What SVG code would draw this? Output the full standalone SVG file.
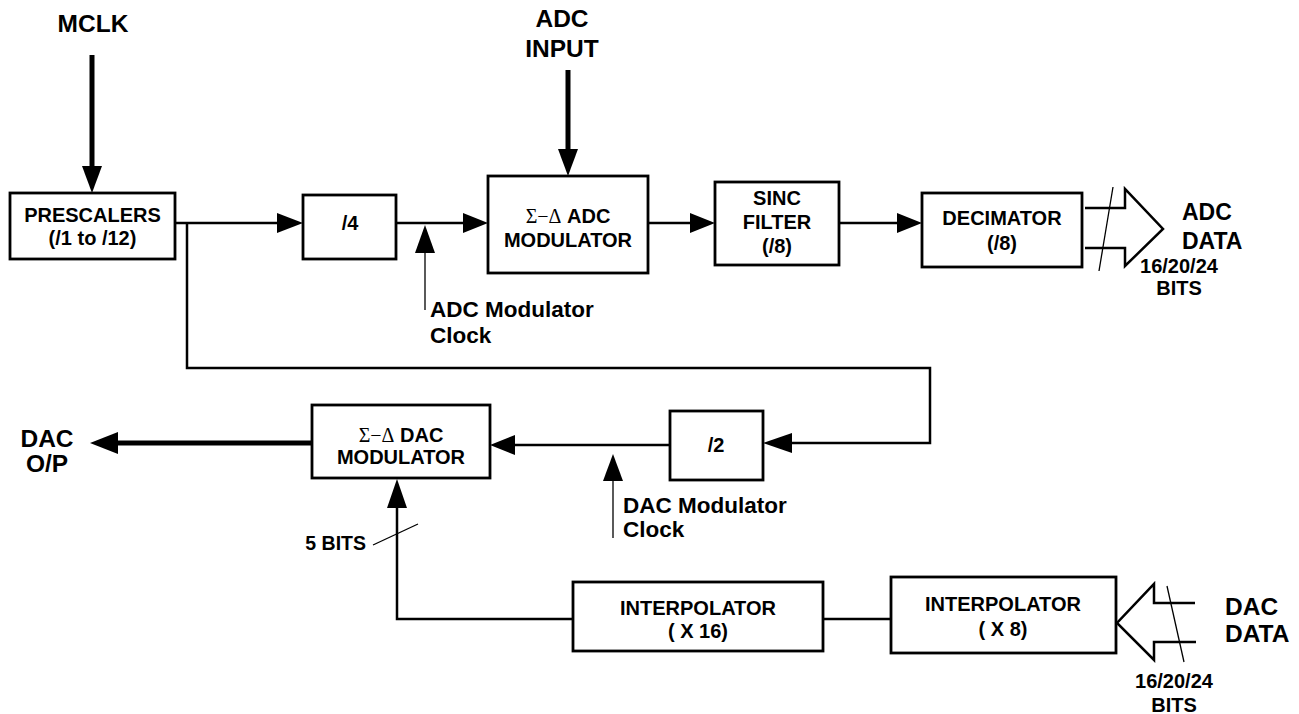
<svg xmlns="http://www.w3.org/2000/svg" width="1299" height="714" viewBox="0 0 1299 714">
  <defs>
    <style>
      text { font-family: "Liberation Sans", Arial, sans-serif; font-weight: bold; fill: #000; }
      .box { fill: #fff; stroke: #000; stroke-width: 2.8; }
      .lbl { font-size: 20px; text-anchor: middle; }
      .note { font-size: 19.5px; }
      .big { font-size: 24.5px; }
      .mid { font-size: 23px; }
      .clk { font-size: 22.5px; }
      .sym { font-family: "Liberation Serif", "Times New Roman", serif; font-weight: normal; }
      .wire { fill: none; stroke: #000; stroke-width: 2.5; }
      .thick { fill: none; stroke: #000; stroke-width: 5; }
      .thin { fill: none; stroke: #000; stroke-width: 1.3; }
      .head { fill: #000; stroke: none; }
      .bus { fill: none; stroke: #000; stroke-width: 2.5; stroke-linejoin: miter; }
    </style>
  </defs>

  <rect width="1299" height="714" fill="#fff"/>

  <!-- connectors -->
  <g id="connectors">
    <!-- MCLK into prescalers -->
    <line class="thick" x1="92" y1="55" x2="92" y2="170"/>
    <polygon class="head" points="82,166 102,166 92,193"/>
    <!-- ADC input into modulator -->
    <line class="thick" x1="568" y1="70" x2="568" y2="152"/>
    <polygon class="head" points="558,149 578,149 568,176"/>

    <!-- prescalers -> /4 -->
    <line class="wire" x1="175" y1="223" x2="280" y2="223"/>
    <polygon class="head" points="277,213 277,233 303,223"/>
    <!-- /4 -> ADC modulator -->
    <line class="wire" x1="396" y1="223" x2="466" y2="223"/>
    <polygon class="head" points="463,213 463,233 488,223"/>
    <!-- ADC modulator clock tap -->
    <line class="thin" x1="425" y1="250" x2="425" y2="310"/>
    <polygon class="head" points="415,253 435,253 425,225"/>
    <!-- ADC modulator -> SINC -->
    <line class="wire" x1="648" y1="223" x2="692" y2="223"/>
    <polygon class="head" points="690,213 690,233 715,223"/>
    <!-- SINC -> decimator -->
    <line class="wire" x1="839" y1="223" x2="900" y2="223"/>
    <polygon class="head" points="897,213 897,233 922,223"/>

    <!-- ADC data output bus -->
    <path class="bus" d="M1085,208 L1125,208 L1125,189 L1163,229 L1125,266 L1125,248 L1085,248"/>
    <line class="thin" x1="1113" y1="187" x2="1099" y2="271"/>

    <!-- prescaler tap down and across to /2 -->
    <path class="wire" d="M187,223 L187,368 L930,368 L930,443 L790,443"/>
    <polygon class="head" points="792,433 792,453 763,443"/>
    <!-- /2 -> DAC modulator -->
    <line class="wire" x1="670" y1="445" x2="512" y2="445"/>
    <polygon class="head" points="515,435 515,455 490,445"/>
    <!-- DAC modulator clock tap -->
    <line class="thin" x1="613" y1="478" x2="613" y2="538"/>
    <polygon class="head" points="603,481 623,481 613,454"/>

    <!-- DAC output -->
    <line class="thick" x1="312" y1="443" x2="115" y2="443"/>
    <polygon class="head" points="118,432 118,454 90,443"/>

    <!-- interpolator chain up to DAC modulator -->
    <line class="wire" x1="823" y1="619" x2="891" y2="619"/>
    <path class="wire" d="M573,619 L397,619 L397,505"/>
    <polygon class="head" points="387,508 407,508 397,479"/>
    <line class="thin" x1="373" y1="545" x2="418" y2="524"/>

    <!-- DAC data input bus -->
    <path class="bus" d="M1195,603 L1154,603 L1154,584 L1117,623 L1154,660 L1154,642 L1196,642"/>
    <line class="thin" x1="1167" y1="586" x2="1184" y2="662"/>
  </g>

  <!-- free labels -->
  <g id="labels">
    <text class="big" x="93" y="32" text-anchor="middle">MCLK</text>
    <text class="big" x="562" y="27" text-anchor="middle">ADC</text>
    <text class="big" x="562" y="57" text-anchor="middle">INPUT</text>
    <text class="clk" x="430" y="317">ADC Modulator</text>
    <text class="clk" x="430" y="343">Clock</text>
    <text class="mid" x="1182" y="220">ADC</text>
    <text class="mid" x="1182" y="249">DATA</text>
    <text class="lbl" x="1179" y="273">16/20/24</text>
    <text class="lbl" x="1179" y="295">BITS</text>
    <text class="big" x="47" y="447" text-anchor="middle">DAC</text>
    <text class="big" x="47" y="472" text-anchor="middle">O/P</text>
    <text class="clk" x="623" y="513">DAC Modulator</text>
    <text class="clk" x="623" y="537">Clock</text>
    <text class="note" x="366" y="550" text-anchor="end">5 BITS</text>
    <text class="big" x="1225" y="615">DAC</text>
    <text class="big" x="1225" y="642">DATA</text>
    <text class="lbl" x="1174" y="688">16/20/24</text>
    <text class="lbl" x="1174" y="712">BITS</text>
  </g>

  <g id="prescalers">
    <rect class="box" x="10" y="193" width="165" height="66"/>
    <text class="lbl" x="92.5" y="222">PRESCALERS</text>
    <text class="lbl" x="92.5" y="245">(/1 to /12)</text>
  </g>

  <g id="div4">
    <rect class="box" x="303" y="195" width="93" height="64"/>
    <text class="lbl" x="350" y="230">/4</text>
  </g>

  <g id="adc-modulator">
    <rect class="box" x="488" y="176" width="160" height="97"/>
    <text class="lbl" x="568" y="223"><tspan class="sym">Σ−Δ</tspan> ADC</text>
    <text class="lbl" x="568" y="247">MODULATOR</text>
  </g>

  <g id="sinc-filter">
    <rect class="box" x="715" y="182" width="124" height="83"/>
    <text class="lbl" x="777" y="205">SINC</text>
    <text class="lbl" x="777" y="229">FILTER</text>
    <text class="lbl" x="777" y="253">(/8)</text>
  </g>

  <g id="decimator">
    <rect class="box" x="922" y="193" width="160" height="74"/>
    <text class="lbl" x="1002" y="225">DECIMATOR</text>
    <text class="lbl" x="1002" y="250">(/8)</text>
  </g>

  <g id="dac-modulator">
    <rect class="box" x="312" y="405" width="178" height="73"/>
    <text class="lbl" x="401" y="442"><tspan class="sym">Σ−Δ</tspan> DAC</text>
    <text class="lbl" x="401" y="464">MODULATOR</text>
  </g>

  <g id="div2">
    <rect class="box" x="670" y="411" width="93" height="69"/>
    <text class="lbl" x="716" y="452">/2</text>
  </g>

  <g id="interpolator-x16">
    <rect class="box" x="573" y="582" width="250" height="69"/>
    <text class="lbl" x="698" y="615">INTERPOLATOR</text>
    <text class="lbl" x="698" y="638">( X 16)</text>
  </g>

  <g id="interpolator-x8">
    <rect class="box" x="891" y="577" width="225" height="76"/>
    <text class="lbl" x="1003" y="611">INTERPOLATOR</text>
    <text class="lbl" x="1003" y="636">( X 8)</text>
  </g>
</svg>
